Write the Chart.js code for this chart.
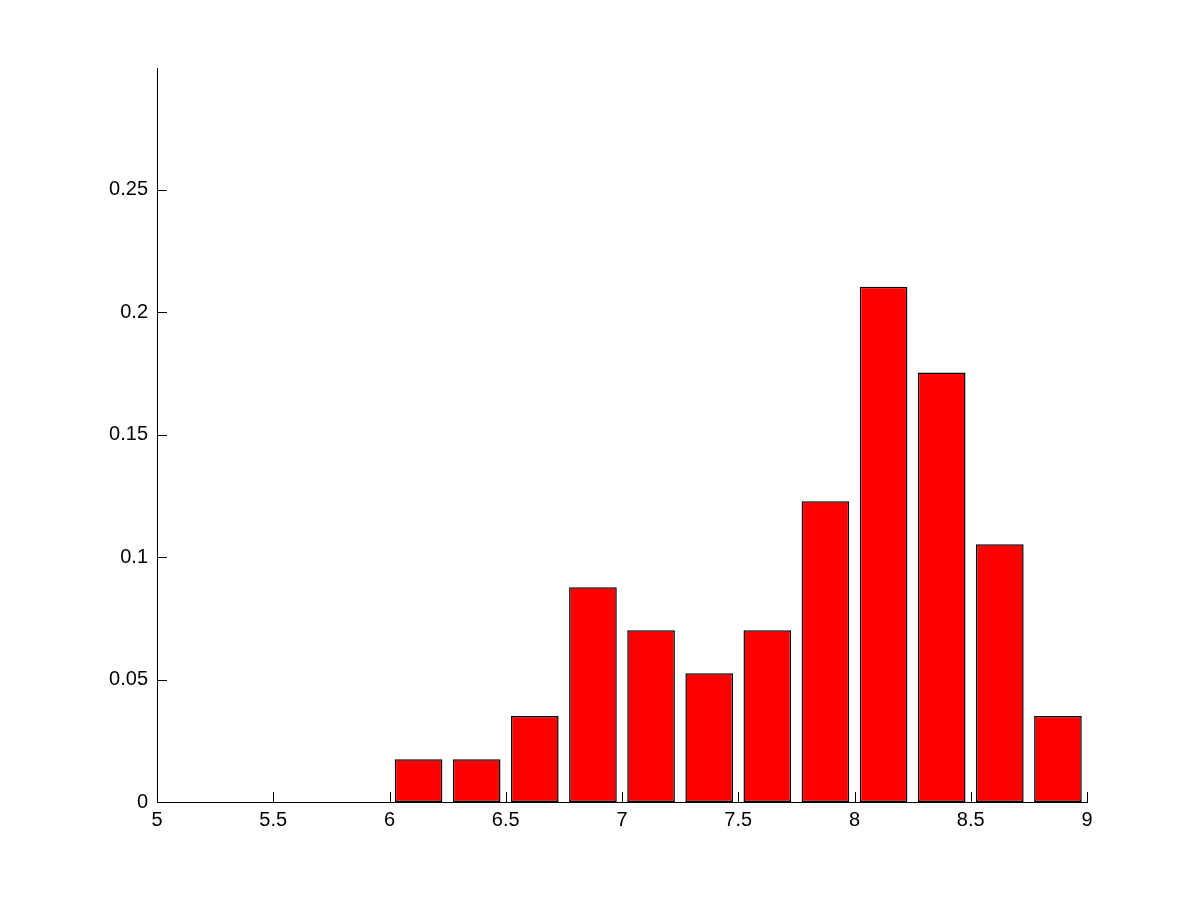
<!DOCTYPE html>
<html>
<head>
<meta charset="utf-8">
<script src="https://cdn.jsdelivr.net/npm/chart.js@4/dist/chart.umd.min.js"></script>
<style>
  html, body { margin: 0; padding: 0; background: #fff; }
  #wrap { width: 1201px; height: 901px; }
</style>
</head>
<body>
<div id="wrap"><canvas id="hist"></canvas></div>
<script>
// bin centres and relative frequencies
const binCenters = [6.125, 6.375, 6.625, 6.875, 7.125, 7.375, 7.625, 7.875, 8.125, 8.375, 8.625, 8.875]
const frequencies = [0.0175, 0.0175, 0.0351, 0.0877, 0.0702, 0.0526, 0.0702, 0.1228, 0.2105, 0.1754, 0.1053, 0.0351]

const xTicks = [5, 5.5, 6, 6.5, 7, 7.5, 8, 8.5, 9]
const yTicks = [0, 0.05, 0.1, 0.15, 0.2, 0.25]
const yTickLabels = ["0", "0.05", "0.1", "0.15", "0.2", "0.25"]

Chart.defaults.font.family = "'Liberation Sans', Arial, sans-serif"
Chart.defaults.font.size = 20
Chart.defaults.color = "#000"

// matlab style ticks pointing into the plot
const inwardTicks = {
  id: "inwardTicks",
  afterDraw(chart) {
    const ctx = chart.ctx
    const area = chart.chartArea
    const xs = chart.scales.x
    const ys = chart.scales.y
    ctx.save()
    ctx.strokeStyle = "#000"
    ctx.lineWidth = 1
    ctx.beginPath()
    xs.ticks.forEach(t => {
      const px = Math.round(xs.getPixelForValue(t.value)) + 0.5
      ctx.moveTo(px, area.bottom)
      ctx.lineTo(px, area.bottom - 10)
    })
    ys.ticks.forEach(t => {
      const py = Math.round(ys.getPixelForValue(t.value)) + 0.5
      ctx.moveTo(area.left, py)
      ctx.lineTo(area.left + 10, py)
    })
    ctx.stroke()
    ctx.restore()
  }
}

new Chart(document.getElementById("hist"), {
  type: "bar",
  data: {
    datasets: [{
      data: binCenters.map((x, i) => ({ x: x, y: frequencies[i] })),
      backgroundColor: "#ff0000",
      borderColor: "#000",
      borderWidth: 1.5,
      borderSkipped: false,
      categoryPercentage: 1,
      barPercentage: 0.82
    }]
  },
  options: {
    responsive: true,
    maintainAspectRatio: false,
    animation: false,
    layout: { padding: { left: 0, right: 114, top: 68, bottom: 40 } },
    plugins: { legend: { display: false }, tooltip: { enabled: false } },
    scales: {
      x: {
        type: "linear",
        min: 5,
        max: 9,
        offset: false,
        afterBuildTicks: s => { s.ticks = xTicks.map(v => ({ value: v })) },
        afterFit: s => { s.height = 59 },
        grid: { display: false, drawTicks: false, offset: false },
        border: { display: true, color: "#000", width: 1 },
        ticks: { padding: 6, maxRotation: 0, autoSkip: false, callback: v => String(v) }
      },
      y: {
        min: 0,
        max: 0.2998,
        afterBuildTicks: s => { s.ticks = yTicks.map(v => ({ value: v })) },
        afterFit: s => { s.width = 157 },
        grid: { display: false, drawTicks: false },
        border: { display: true, color: "#000", width: 1 },
        ticks: { padding: 9, autoSkip: false, callback: (v, i) => yTickLabels[i] }
      }
    }
  },
  plugins: [inwardTicks]
})
</script>
</body>
</html>
